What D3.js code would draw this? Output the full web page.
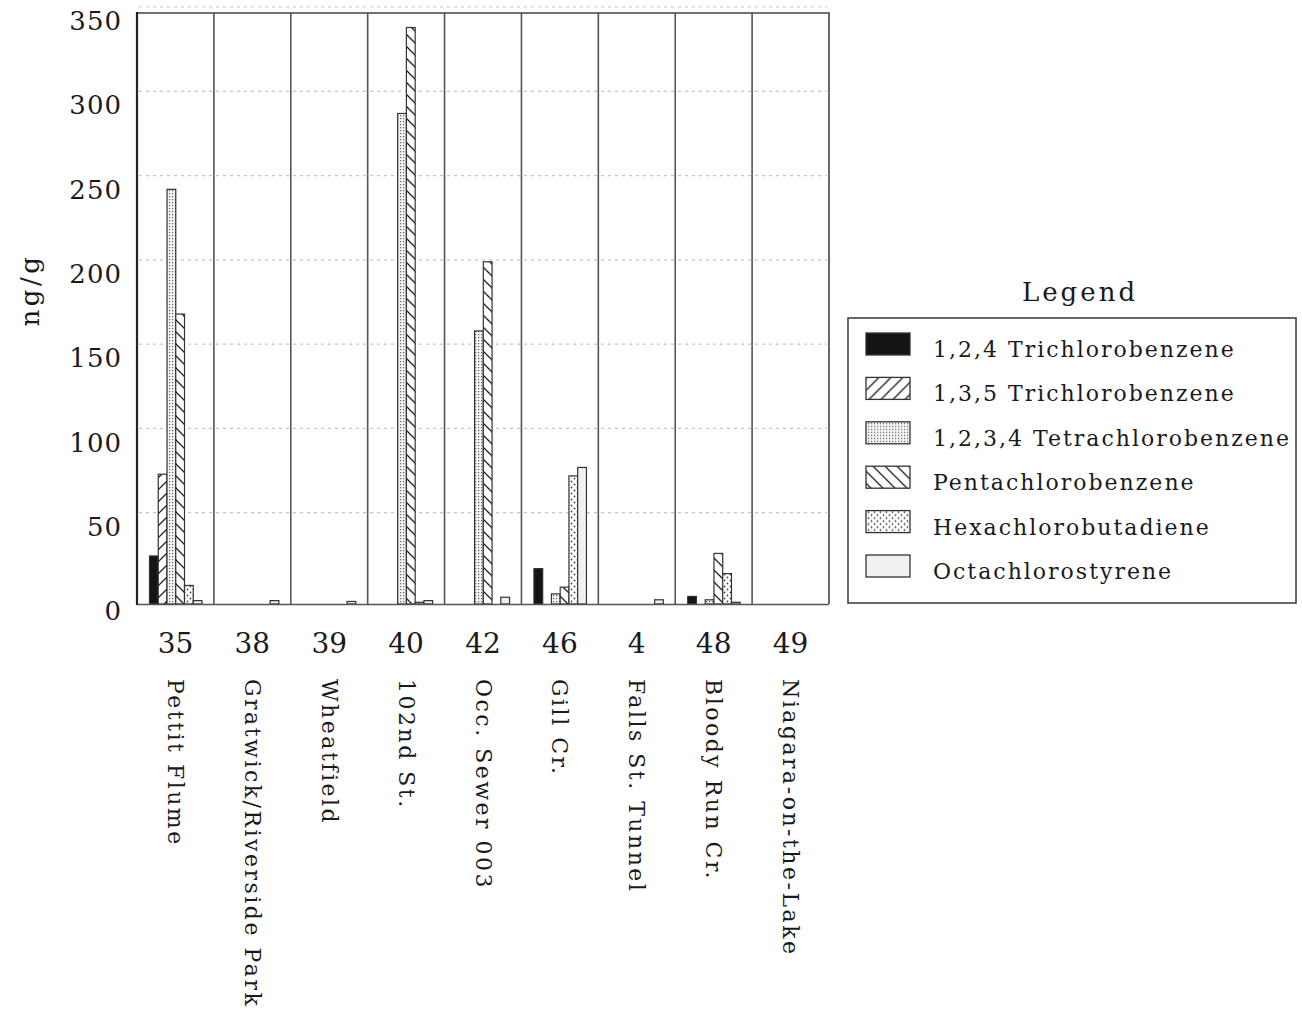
<!DOCTYPE html>
<html>
<head>
<meta charset="utf-8">
<script src="https://cdn.jsdelivr.net/npm/d3@7/dist/d3.min.js"></script>
<style>
  html, body { margin: 0; padding: 0; background: #fff; }
  svg { display: block; }
  text { font-family: "DejaVu Serif", serif; fill: #1a1a1a; }
</style>
</head>
<body>
<svg id="chart" width="1302" height="1009"></svg>
<script>
// ---- data ----
const siteNumbers = ["35", "38", "39", "40", "42", "46", "4", "48", "49"];
const siteNames = ["Pettit Flume", "Gratwick/Riverside Park", "Wheatfield", "102nd St.",
  "Occ. Sewer 003", "Gill Cr.", "Falls St. Tunnel", "Bloody Run Cr.", "Niagara-on-the-Lake"];
const seriesNames = ["1,2,4 Trichlorobenzene", "1,3,5 Trichlorobenzene", "1,2,3,4 Tetrachlorobenzene",
  "Pentachlorobenzene", "Hexachlorobutadiene", "Octachlorostyrene"];
const tri124  = [28.5, 0, 0, 0, 0, 21, 0, 4.5, 0];
const tri135  = [77, 0, 0, 0, 0, 0, 0, 0, 0];
const tetra   = [246, 0, 0, 291, 162, 6, 0, 2.5, 0];
const penta   = [172, 0, 0, 342, 203, 10, 0, 30, 0];
const hexa    = [11, 0, 0, 1, 0, 76, 0, 18, 0];
const octa    = [2, 2, 1.5, 2, 4, 81, 2.5, 1, 0];
const yTicks  = [0, 50, 100, 150, 200, 250, 300, 350];
const yLabel  = "ng/g";
const legendTitle = "Legend";

const seriesValues = [tri124, tri135, tetra, penta, hexa, octa];
const fills = ["#141414", "url(#hatchF)", "url(#fineDots)", "url(#hatchB)", "url(#coarseDots)", "#f0f0f0"];

const svg = d3.select("#chart");

// ---- patterns ----
const defs = svg.append("defs");
const pF = defs.append("pattern").attr("id", "hatchF").attr("patternUnits", "userSpaceOnUse")
  .attr("width", 12).attr("height", 12);
pF.append("rect").attr("width", 12).attr("height", 12).attr("fill", "#fff");
pF.append("path").attr("d", "M0,12 L12,0 M-3,3 L3,-3 M9,15 L15,9")
  .attr("stroke", "#222").attr("stroke-width", 1.3);
const pB = defs.append("pattern").attr("id", "hatchB").attr("patternUnits", "userSpaceOnUse")
  .attr("width", 12).attr("height", 12);
pB.append("rect").attr("width", 12).attr("height", 12).attr("fill", "#fff");
pB.append("path").attr("d", "M0,0 L12,12 M-3,9 L3,15 M9,-3 L15,3")
  .attr("stroke", "#222").attr("stroke-width", 1.3);
const pD = defs.append("pattern").attr("id", "fineDots").attr("patternUnits", "userSpaceOnUse")
  .attr("width", 3).attr("height", 3);
pD.append("rect").attr("width", 3).attr("height", 3).attr("fill", "#f4f4f4");
pD.append("rect").attr("x", 1).attr("y", 1).attr("width", 1.2).attr("height", 1.2).attr("fill", "#666");
const pC = defs.append("pattern").attr("id", "coarseDots").attr("patternUnits", "userSpaceOnUse")
  .attr("width", 6).attr("height", 6);
pC.append("rect").attr("width", 6).attr("height", 6).attr("fill", "#fff");
pC.append("circle").attr("cx", 1.5).attr("cy", 1.5).attr("r", 0.9).attr("fill", "#444");
pC.append("circle").attr("cx", 4.5).attr("cy", 4.5).attr("r", 0.9).attr("fill", "#444");

// ---- scales ----
const plot = { left: 137, right: 829, top: 14, bottom: 604 };
const x0 = d3.scaleBand().domain(siteNumbers).range([plot.left, plot.right]).padding(0);
const x1 = d3.scaleBand().domain(d3.range(seriesNames.length)).range([12.5, 65]).padding(0);
const y = d3.scaleLinear().domain([0, 350]).range([plot.bottom, plot.top]);

// ---- grid ----
svg.append("g").selectAll("line").data(yTicks.filter(d => d > 0)).join("line")
  .attr("x1", plot.left + 2).attr("x2", plot.right - 2)
  .attr("y1", d => y(d) - 7).attr("y2", d => y(d) - 7)
  .attr("stroke", "#c4c4c4").attr("stroke-width", 1.2).attr("stroke-dasharray", "3,4");

// ---- group dividers ----
svg.append("g").selectAll("line").data(siteNumbers.slice(1)).join("line")
  .attr("x1", d => x0(d)).attr("x2", d => x0(d))
  .attr("y1", plot.top - 1).attr("y2", plot.bottom)
  .attr("stroke", "#555").attr("stroke-width", 1.6);

// ---- bars ----
const barData = [];
siteNumbers.forEach((s, gi) => {
  seriesValues.forEach((vals, si) => {
    if (vals[gi] > 0) barData.push({ site: s, si: si, v: vals[gi] });
  });
});
svg.append("g").selectAll("rect").data(barData).join("rect")
  .attr("x", d => x0(d.site) + x1(d.si))
  .attr("width", x1.bandwidth())
  .attr("y", d => y(d.v))
  .attr("height", d => y(0) - y(d.v))
  .attr("fill", d => fills[d.si])
  .attr("stroke", "#333").attr("stroke-width", 1.2);

// ---- frame ----
svg.append("path")
  .attr("d", `M${plot.left},${plot.top - 1} H${plot.right} V${plot.bottom}`)
  .attr("fill", "none").attr("stroke", "#444").attr("stroke-width", 1.6);
svg.append("line").attr("x1", plot.left).attr("x2", plot.right)
  .attr("y1", plot.bottom + 0.5).attr("y2", plot.bottom + 0.5)
  .attr("stroke", "#555").attr("stroke-width", 1.4);
svg.append("line").attr("x1", plot.left).attr("x2", plot.left)
  .attr("y1", plot.top - 2).attr("y2", plot.bottom + 1)
  .attr("stroke", "#222").attr("stroke-width", 2.2);

// ---- y axis ----
const yAxis = svg.append("g").attr("transform", `translate(${plot.left - 15},0)`)
  .call(d3.axisLeft(y).tickValues(yTicks).tickSize(0).tickPadding(0).tickFormat(d3.format("d")));
yAxis.select(".domain").remove();
yAxis.selectAll("text").attr("font-family", "DejaVu Serif").attr("font-size", 26)
  .attr("letter-spacing", 1).attr("fill", "#1a1a1a").attr("dy", "0.6em");

svg.append("text").attr("transform", "translate(39,290) rotate(-90)")
  .attr("text-anchor", "middle").attr("font-size", 26).attr("letter-spacing", 3.5)
  .text(yLabel);

// ---- x axis ----
const xAxis = svg.append("g").attr("transform", `translate(0,${plot.bottom})`)
  .call(d3.axisBottom(x0).tickSize(0).tickPadding(0));
xAxis.select(".domain").remove();
xAxis.selectAll("text").attr("font-family", "DejaVu Serif").attr("font-size", 28)
  .attr("fill", "#1a1a1a").attr("dy", "0").attr("y", 49);

svg.append("g").selectAll("text").data(siteNames).join("text")
  .attr("transform", (d, i) => `translate(${x0(siteNumbers[i]) + x0.bandwidth() / 2},679) rotate(90)`)
  .attr("dominant-baseline", "central")
  .attr("font-size", 22).attr("letter-spacing", 2.5)
  .text(d => d);

// ---- legend ----
const lg = svg.append("g");
lg.append("text").attr("x", 1080).attr("y", 301).attr("text-anchor", "middle")
  .attr("font-size", 26).attr("letter-spacing", 3).text(legendTitle);
lg.append("rect").attr("x", 848).attr("y", 318).attr("width", 448).attr("height", 285)
  .attr("fill", "none").attr("stroke", "#444").attr("stroke-width", 1.6);
const rows = lg.selectAll("g.row").data(seriesNames).join("g").attr("class", "row")
  .attr("transform", (d, i) => `translate(0,${i * 44.4})`);
rows.append("rect").attr("x", 866).attr("y", 333).attr("width", 44).attr("height", 22)
  .attr("fill", (d, i) => fills[i]).attr("stroke", "#333").attr("stroke-width", 1.3);
rows.append("text").attr("x", 933).attr("y", 357).attr("font-size", 22).attr("letter-spacing", 2)
  .text(d => d);
</script>
</body>
</html>
